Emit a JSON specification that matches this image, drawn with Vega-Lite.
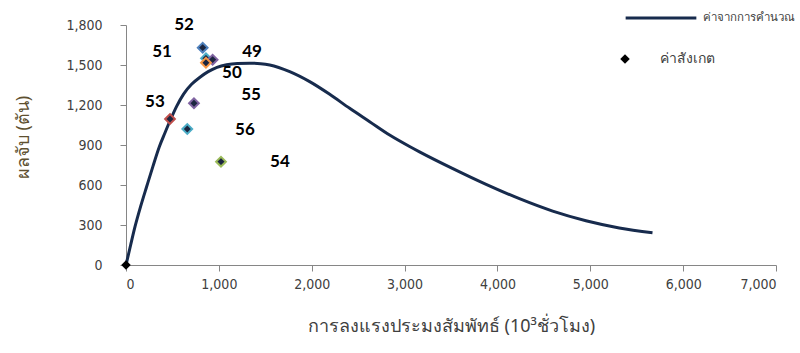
{
  "$schema": "https://vega.github.io/schema/vega-lite/v6.json",
  "width": 650,
  "height": 240,
  "autosize": {"type": "none"},
  "padding": {"left": 126, "top": 25, "right": 24, "bottom": 88},
  "background": "white",
  "config": {
    "view": {"stroke": null},
    "font": "Noto Sans",
    "axis": {"grid": false, "domainColor": "#868686", "tickColor": "#868686", "labelColor": "#404040", "labelFontSize": 14, "labelFont": "DejaVu Sans Condensed", "tickSize": 6, "labelOverlap": false}
  },
  "datasets": {
    "curve": [
      {"x": 0, "y": 0, "name": "ค่าจากการคำนวณ"},
      {"x": 50, "y": 150, "name": "ค่าจากการคำนวณ"},
      {"x": 97, "y": 287, "name": "ค่าจากการคำนวณ"},
      {"x": 160, "y": 445, "name": "ค่าจากการคำนวณ"},
      {"x": 222, "y": 587, "name": "ค่าจากการคำนวณ"},
      {"x": 290, "y": 740, "name": "ค่าจากการคำนวณ"},
      {"x": 359, "y": 887, "name": "ค่าจากการคำนวณ"},
      {"x": 420, "y": 992, "name": "ค่าจากการคำนวณ"},
      {"x": 473, "y": 1080, "name": "ค่าจากการคำนวณ"},
      {"x": 545, "y": 1190, "name": "ค่าจากการคำนวณ"},
      {"x": 620, "y": 1282, "name": "ค่าจากการคำนวณ"},
      {"x": 706, "y": 1355, "name": "ค่าจากการคำนวณ"},
      {"x": 800, "y": 1410, "name": "ค่าจากการคำนวณ"},
      {"x": 885, "y": 1450, "name": "ค่าจากการคำนวณ"},
      {"x": 980, "y": 1482, "name": "ค่าจากการคำนวณ"},
      {"x": 1083, "y": 1502, "name": "ค่าจากการคำนวณ"},
      {"x": 1200, "y": 1512, "name": "ค่าจากการคำนวณ"},
      {"x": 1333, "y": 1514, "name": "ค่าจากการคำนวณ"},
      {"x": 1450, "y": 1510, "name": "ค่าจากการคำนวณ"},
      {"x": 1548, "y": 1500, "name": "ค่าจากการคำนวณ"},
      {"x": 1763, "y": 1450, "name": "ค่าจากการคำนวณ"},
      {"x": 1978, "y": 1375, "name": "ค่าจากการคำนวณ"},
      {"x": 2194, "y": 1280, "name": "ค่าจากการคำนวณ"},
      {"x": 2409, "y": 1175, "name": "ค่าจากการคำนวณ"},
      {"x": 2624, "y": 1075, "name": "ค่าจากการคำนวณ"},
      {"x": 2839, "y": 975, "name": "ค่าจากการคำนวณ"},
      {"x": 3054, "y": 889, "name": "ค่าจากการคำนวณ"},
      {"x": 3161, "y": 849, "name": "ค่าจากการคำนวณ"},
      {"x": 3520, "y": 723, "name": "ค่าจากการคำนวณ"},
      {"x": 3878, "y": 605, "name": "ค่าจากการคำนวณ"},
      {"x": 4237, "y": 497, "name": "ค่าจากการคำนวณ"},
      {"x": 4595, "y": 404, "name": "ค่าจากการคำนวณ"},
      {"x": 4953, "y": 332, "name": "ค่าจากการคำนวณ"},
      {"x": 5312, "y": 278, "name": "ค่าจากการคำนวณ"},
      {"x": 5670, "y": 242, "name": "ค่าจากการคำนวณ"}
    ],
    "obs": [
      {"x": 826, "y": 1630, "year": "52"},
      {"x": 861, "y": 1550, "year": "51"},
      {"x": 933, "y": 1540, "year": "49"},
      {"x": 861, "y": 1517, "year": "50"},
      {"x": 732, "y": 1213, "year": "55"},
      {"x": 474, "y": 1095, "year": "53"},
      {"x": 660, "y": 1020, "year": "56"},
      {"x": 1023, "y": 775, "year": "54"}
    ],
    "origin": [
      {"x": 0, "y": 0, "name": "ค่าสังเกต"}
    ],
    "labels": [
      {"x": 625, "y": 1800, "year": "52"},
      {"x": 388, "y": 1598, "year": "51"},
      {"x": 1357, "y": 1598, "year": "49"},
      {"x": 1141, "y": 1440, "year": "50"},
      {"x": 1346, "y": 1275, "year": "55"},
      {"x": 312, "y": 1223, "year": "53"},
      {"x": 1281, "y": 1013, "year": "56"},
      {"x": 1658, "y": 773, "year": "54"}
    ]
  },
  "layer": [
    {
      "data": {"name": "curve"},
      "mark": {"type": "line", "strokeWidth": 3, "clip": false, "interpolate": "monotone"},
      "encoding": {
        "x": {"field": "x", "type": "quantitative", "scale": {"domain": [0, 7000], "nice": false},
              "axis": {"values": [0, 1000, 2000, 3000, 4000, 5000, 6000, 7000], "tickCount": 20, "format": ",.0f", "labelPadding": 6, "title": "การลงแรงประมงสัมพัทธ์ (10³ชั่วโมง)", "titleFontSize": 18, "titleFontWeight": "normal", "titleColor": "#404040", "titlePadding": 26}},
        "y": {"field": "y", "type": "quantitative", "scale": {"domain": [0, 1800], "nice": false},
              "axis": {"values": [0, 300, 600, 900, 1200, 1500, 1800], "tickCount": 20, "format": ",.0f", "labelPadding": 18, "title": "ผลจับ (ตัน)", "titleFontSize": 18, "titleFontWeight": "normal", "titleColor": "#5e5030", "titleX": -103, "titleY": 112, "titleAlign": "center", "titleBaseline": "middle", "titleAngle": -90}},
        "stroke": {"field": "name", "type": "nominal", "scale": {"range": ["#172b4d"]},
                   "legend": {"orient": "none", "legendX": 498, "legendY": -44, "title": null, "symbolType": "stroke", "symbolSize": 5000, "symbolStrokeWidth": 3, "labelFontSize": 11.5, "labelColor": "#404040", "padding": 0, "labelOffset": 5, "labelLimit": 300}}
      }
    },
    {
      "data": {"name": "obs"},
      "mark": {"type": "point", "shape": "diamond", "filled": true, "fill": "#1c2640", "size": 95, "strokeWidth": 2, "opacity": 1},
      "encoding": {
        "x": {"field": "x", "type": "quantitative"},
        "y": {"field": "y", "type": "quantitative"},
        "stroke": {"field": "year", "type": "nominal",
                   "scale": {"domain": ["49", "50", "51", "52", "53", "54", "55", "56"], "range": ["#8064a2", "#f79646", "#4bacc6", "#4f81bd", "#c0504d", "#9bbb59", "#8064a2", "#4bacc6"]},
                   "legend": null}
      }
    },
    {
      "data": {"name": "origin"},
      "mark": {"type": "point", "filled": true, "color": "black", "size": 90, "opacity": 1, "clip": false},
      "encoding": {
        "x": {"field": "x", "type": "quantitative"},
        "y": {"field": "y", "type": "quantitative"},
        "shape": {"field": "name", "type": "nominal", "scale": {"range": ["diamond"]},
                  "legend": {"orient": "none", "legendX": 492, "legendY": 27, "title": null, "symbolFillColor": "black", "symbolStrokeColor": "black", "symbolSize": 90, "labelFontSize": 14, "labelColor": "#404040", "padding": 0, "labelOffset": 28}}
      }
    },
    {
      "data": {"name": "labels"},
      "mark": {"type": "text", "font": "Lato", "fontWeight": "bold", "fontSize": 17, "color": "black"},
      "encoding": {
        "x": {"field": "x", "type": "quantitative"},
        "y": {"field": "y", "type": "quantitative"},
        "text": {"field": "year", "type": "nominal"}
      }
    }
  ],
  "resolve": {"scale": {"stroke": "independent"}}
}
